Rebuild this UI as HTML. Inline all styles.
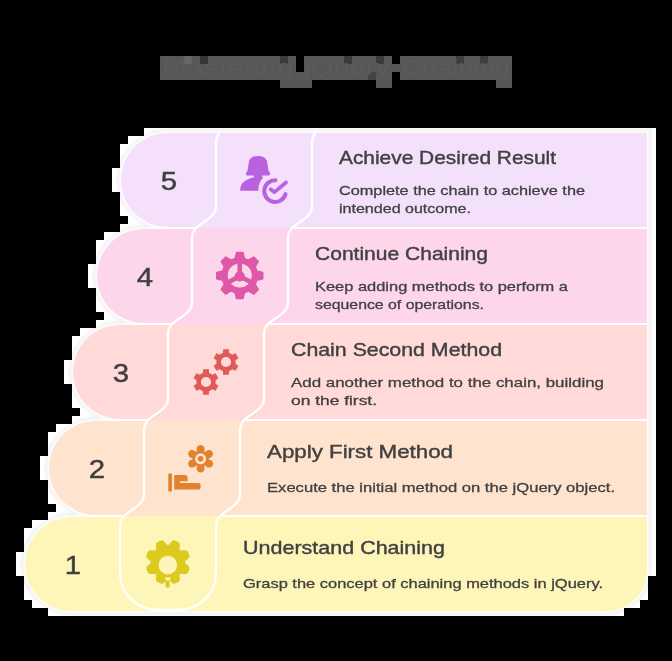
<!DOCTYPE html>
<html><head><meta charset="utf-8"><style>html,body{margin:0;padding:0;background:#000;width:672px;height:661px;overflow:hidden}</style></head>
<body><svg width="672" height="661" viewBox="0 0 672 661" style="display:block;will-change:transform;font-family:'Liberation Sans',sans-serif"><path d="M144,128 L656,128 L656,576 L648,576 L648,600 L640,600 L640,608 L624,608 L624,616 L48,616 L48,608 L32,608 L32,600 L24,600 L24,576 L16,576 L16,552 L24,552 L24,528 L32,528 L32,520 L48,520 L48,512 L56,512 L56,504 L48,504 L48,480 L40,480 L40,456 L48,456 L48,432 L56,432 L56,424 L72,424 L72,416 L80,416 L80,408 L72,408 L72,384 L64,384 L64,360 L72,360 L72,336 L80,336 L80,328 L96,328 L96,320 L104,320 L104,312 L96,312 L96,288 L88,288 L88,264 L96,264 L96,240 L104,240 L104,232 L120,232 L120,224 L128,224 L128,216 L120,216 L120,192 L112,192 L112,168 L120,168 L120,144 L128,144 L128,136 L144,136 L144,128 Z" fill="#FFFFFF"/>
<clipPath id="haloclip"><path d="M144,128 L656,128 L656,576 L648,576 L648,600 L640,600 L640,608 L624,608 L624,616 L48,616 L48,608 L32,608 L32,600 L24,600 L24,576 L16,576 L16,552 L24,552 L24,528 L32,528 L32,520 L48,520 L48,512 L56,512 L56,504 L48,504 L48,480 L40,480 L40,456 L48,456 L48,432 L56,432 L56,424 L72,424 L72,416 L80,416 L80,408 L72,408 L72,384 L64,384 L64,360 L72,360 L72,336 L80,336 L80,328 L96,328 L96,320 L104,320 L104,312 L96,312 L96,288 L88,288 L88,264 L96,264 L96,240 L104,240 L104,232 L120,232 L120,224 L128,224 L128,216 L120,216 L120,192 L112,192 L112,168 L120,168 L120,144 L128,144 L128,136 L144,136 L144,128 Z"/></clipPath>
<filter id="sb" x="-5%" y="-5%" width="110%" height="110%"><feGaussianBlur stdDeviation="0.8"/></filter>
<g clip-path="url(#haloclip)"><g filter="url(#sb)"><path d="M168.0,133 L647,133 L647,227 L168.0,227 A47.0,47.0 0 0 1 168.0,133 Z M144.0,229 L647,229 L647,323 L144.0,323 A47.0,47.0 0 0 1 144.0,229 Z M120.0,325 L647,325 L647,419 L120.0,419 A47.0,47.0 0 0 1 120.0,325 Z M96.0,421 L647,421 L647,515 L96.0,515 A47.0,47.0 0 0 1 96.0,421 Z M72.0,517 L647,517 L647,571 A40,40 0 0 1 607,611 L72.0,611 A47.0,47.0 0 0 1 72.0,517 Z" fill="none" stroke="#EFEFEF" stroke-width="8"/><path d="M168.0,133 L647,133 L647,227 L168.0,227 A47.0,47.0 0 0 1 168.0,133 Z M144.0,229 L647,229 L647,323 L144.0,323 A47.0,47.0 0 0 1 144.0,229 Z M120.0,325 L647,325 L647,419 L120.0,419 A47.0,47.0 0 0 1 120.0,325 Z M96.0,421 L647,421 L647,515 L96.0,515 A47.0,47.0 0 0 1 96.0,421 Z M72.0,517 L647,517 L647,571 A40,40 0 0 1 607,611 L72.0,611 A47.0,47.0 0 0 1 72.0,517 Z" fill="none" stroke="#FFFFFF" stroke-width="3.6"/></g></g>
<rect x="160" y="56" width="136" height="24" fill="#575757"/>
<rect x="296" y="72" width="8" height="8" fill="#575757"/>
<rect x="304" y="56" width="88" height="24" fill="#575757"/>
<rect x="392" y="64" width="8" height="8" fill="#575757"/>
<rect x="400" y="56" width="112" height="24" fill="#575757"/>
<rect x="280" y="80" width="32" height="8" fill="#575757"/>
<rect x="376" y="80" width="16" height="8" fill="#575757"/>
<rect x="496" y="80" width="16" height="8" fill="#575757"/>
<rect x="184" y="56" width="8" height="8" fill="#666666"/>
<rect x="200" y="56" width="8" height="8" fill="#363636"/>
<rect x="280" y="56" width="8" height="8" fill="#3c3c3c"/>
<rect x="344" y="56" width="8" height="8" fill="#3a3a3a"/>
<rect x="376" y="56" width="8" height="8" fill="#3a3a3a"/>
<rect x="368" y="72" width="8" height="8" fill="#444444"/>
<rect x="456" y="56" width="8" height="8" fill="#3e3e3e"/>
<rect x="480" y="56" width="8" height="8" fill="#3e3e3e"/>
<clipPath id="tclip"><rect x="160" y="56" width="136" height="24"/><rect x="296" y="72" width="8" height="8"/><rect x="304" y="56" width="88" height="24"/><rect x="392" y="64" width="8" height="8"/><rect x="400" y="56" width="112" height="24"/><rect x="280" y="80" width="32" height="8"/><rect x="376" y="80" width="16" height="8"/><rect x="496" y="80" width="16" height="8"/></clipPath>
<g clip-path="url(#tclip)" fill="#5b5b5b" font-size="22"><text x="162" y="75" textLength="132" lengthAdjust="spacingAndGlyphs">Mastering</text><text x="304" y="75" textLength="86" lengthAdjust="spacingAndGlyphs">jQuery</text><text x="402" y="75" textLength="108" lengthAdjust="spacingAndGlyphs">Chaining</text></g>
<path d="M168.0,133 L647,133 L647,227 L168.0,227 A47.0,47.0 0 0 1 168.0,133 Z" fill="#F4E0FB"/>
<path d="M144.0,229 L647,229 L647,323 L144.0,323 A47.0,47.0 0 0 1 144.0,229 Z" fill="#FDD6EC"/>
<path d="M120.0,325 L647,325 L647,419 L120.0,419 A47.0,47.0 0 0 1 120.0,325 Z" fill="#FFDAD9"/>
<path d="M96.0,421 L647,421 L647,515 L96.0,515 A47.0,47.0 0 0 1 96.0,421 Z" fill="#FEE3CF"/>
<path d="M72.0,517 L647,517 L647,571 A40,40 0 0 1 607,611 L72.0,611 A47.0,47.0 0 0 1 72.0,517 Z" fill="#FEF6B9"/>
<rect x="196.5" y="227" width="96" height="1" fill="#F4E0FB"/>
<rect x="196.5" y="228" width="96" height="1" fill="#FDD6EC"/>
<rect x="172.5" y="323" width="96" height="1" fill="#FDD6EC"/>
<rect x="172.5" y="324" width="96" height="1" fill="#FFDAD9"/>
<rect x="148.5" y="419" width="96" height="1" fill="#FFDAD9"/>
<rect x="148.5" y="420" width="96" height="1" fill="#FEE3CF"/>
<rect x="124.5" y="515" width="96" height="1" fill="#FEE3CF"/>
<rect x="124.5" y="516" width="96" height="1" fill="#FEF6B9"/>
<clipPath id="sepclip"><rect x="0" y="133" width="672" height="478"/></clipPath>
<g clip-path="url(#sepclip)"><path d="M240,110 C240,126 216,126 216,142 L216,206 C216,222 192,222 192,238 L192,302 C192,318 168,318 168,334 L168,398 C168,414 144,414 144,430 L144,494 C144,510 120,510 120,526 L120,573 A37,37 0 0 0 157,610 L179,610 A37,37 0 0 0 216,573 L216,526" fill="none" stroke="#FFFFFF" stroke-width="2.3"/>
<path d="M336,110 C336,126 312,126 312,142 L312,206 C312,222 288,222 288,238 L288,302 C288,318 264,318 264,334 L264,398 C264,414 240,414 240,430 L240,494 C240,510 216,510 216,526 " fill="none" stroke="#FFFFFF" stroke-width="2.3"/></g>
<text transform="translate(169.0,190.3) scale(1.15,1)" x="0" y="0" font-size="25.5" fill="#3f3f3f" stroke="#3f3f3f" stroke-width="0.45" text-anchor="middle">5</text>
<g transform="translate(0,0.0)"><path d="M258,155.9 C263.5,155.9 267,158.5 267.3,163 L268.4,170 C268.6,171.8 270.2,172.3 270.2,173.8 C270.2,175 269.4,175.5 268.3,175.5 L247.7,175.5 C246.6,175.5 245.8,175 245.8,173.8 C245.8,172.3 247.4,171.8 247.6,170 L248.7,163 C249,158.5 252.5,155.9 258,155.9 Z M253.9,175 L262.2,175 L262.4,178 L253.9,178 Z M254,177.2 L263.4,177.4 A16.4,16.4 0 0 0 258.6,190.8 L240.2,190.8 C240.2,185.5 242,182.5 246.5,180 C249,178.6 251.5,177.8 254,177.2 Z" fill="#B862E0"/><path d="M275.48,180.26 A10.85,10.85 0 1 0 285.53,194.09" fill="none" stroke="#B862E0" stroke-width="4" stroke-linecap="round"/><path d="M270.6,189.2 L274.5,192.2 L286,182.5" fill="none" stroke="#B862E0" stroke-width="3.7" stroke-linecap="round" stroke-linejoin="round"/></g>
<text x="339" y="163.6" font-size="18.5" fill="#414141" stroke="#414141" stroke-width="0.4" textLength="217" lengthAdjust="spacingAndGlyphs">Achieve Desired Result</text>
<text x="339" y="195" font-size="13.5" fill="#414141" stroke="#414141" stroke-width="0.3" textLength="246" lengthAdjust="spacingAndGlyphs">Complete the chain to achieve the</text>
<text x="339" y="212.5" font-size="13.5" fill="#414141" stroke="#414141" stroke-width="0.3" textLength="132" lengthAdjust="spacingAndGlyphs">intended outcome.</text>
<text transform="translate(145.0,286.3) scale(1.15,1)" x="0" y="0" font-size="25.5" fill="#3f3f3f" stroke="#3f3f3f" stroke-width="0.45" text-anchor="middle">4</text>
<g transform="translate(0,0.0)"><path d="M235.01,258.65 L236.56,252.62 L242.94,252.62 L244.49,258.65 L245.50,258.97 L246.49,259.34 L247.45,259.77 L248.38,260.26 L253.74,257.10 L258.25,261.61 L255.09,266.97 L255.58,267.90 L256.01,268.86 L256.38,269.85 L256.70,270.86 L262.73,272.41 L262.73,278.79 L256.70,280.34 L256.38,281.35 L256.01,282.34 L255.58,283.30 L255.09,284.23 L258.25,289.59 L253.74,294.10 L248.38,290.94 L247.45,291.43 L246.49,291.86 L245.50,292.23 L244.49,292.55 L242.94,298.58 L236.56,298.58 L235.01,292.55 L234.00,292.23 L233.01,291.86 L232.05,291.43 L231.12,290.94 L225.76,294.10 L221.25,289.59 L224.41,284.23 L223.92,283.30 L223.49,282.34 L223.12,281.35 L222.80,280.34 L216.77,278.79 L216.77,272.41 L222.80,270.86 L223.12,269.85 L223.49,268.86 L223.92,267.90 L224.41,266.97 L221.25,261.61 L225.76,257.10 L231.12,260.26 L232.05,259.77 L233.01,259.34 L234.00,258.97 Z" fill="#DF58A8" stroke="#DF58A8" stroke-width="1.5" stroke-linejoin="round"/><circle cx="239.75" cy="275.6" r="12" fill="#FDD6EC"/><line x1="239.75" y1="276.40000000000003" x2="239.75" y2="262.60" stroke="#DF58A8" stroke-width="4.6"/><line x1="239.75" y1="276.40000000000003" x2="251.01" y2="282.10" stroke="#DF58A8" stroke-width="4.6"/><line x1="239.75" y1="276.40000000000003" x2="228.49" y2="282.10" stroke="#DF58A8" stroke-width="4.6"/><circle cx="239.75" cy="276.40000000000003" r="5.2" fill="#DF58A8"/></g>
<text x="315" y="259.6" font-size="18.5" fill="#414141" stroke="#414141" stroke-width="0.4" textLength="173" lengthAdjust="spacingAndGlyphs">Continue Chaining</text>
<text x="315" y="291" font-size="13.5" fill="#414141" stroke="#414141" stroke-width="0.3" textLength="253" lengthAdjust="spacingAndGlyphs">Keep adding methods to perform a</text>
<text x="315" y="308.5" font-size="13.5" fill="#414141" stroke="#414141" stroke-width="0.3" textLength="169" lengthAdjust="spacingAndGlyphs">sequence of operations.</text>
<text transform="translate(121.0,382.3) scale(1.15,1)" x="0" y="0" font-size="25.5" fill="#3f3f3f" stroke="#3f3f3f" stroke-width="0.45" text-anchor="middle">3</text>
<g transform="translate(0,0.0)"><path d="M222.86,352.93 L223.12,349.32 L228.88,349.32 L229.14,352.93 L229.99,353.27 L230.80,353.69 L231.57,354.18 L232.29,354.74 L235.54,353.17 L238.42,358.15 L235.43,360.18 L235.56,361.09 L235.60,362.00 L235.56,362.91 L235.43,363.82 L238.42,365.85 L235.54,370.83 L232.29,369.26 L231.57,369.82 L230.80,370.31 L229.99,370.73 L229.14,371.07 L228.88,374.68 L223.12,374.68 L222.86,371.07 L222.01,370.73 L221.20,370.31 L220.43,369.82 L219.71,369.26 L216.46,370.83 L213.58,365.85 L216.57,363.82 L216.44,362.91 L216.40,362.00 L216.44,361.09 L216.57,360.18 L213.58,358.15 L216.46,353.17 L219.71,354.74 L220.43,354.18 L221.20,353.69 L222.01,353.27 Z M220.90,362.00 A5.1,5.1 0 1 0 231.10,362.00 A5.1,5.1 0 1 0 220.90,362.00 Z" fill="#E05A58" fill-rule="evenodd"/><path d="M202.86,372.93 L203.12,369.32 L208.88,369.32 L209.14,372.93 L209.99,373.27 L210.80,373.69 L211.57,374.18 L212.29,374.74 L215.54,373.17 L218.42,378.15 L215.43,380.18 L215.56,381.09 L215.60,382.00 L215.56,382.91 L215.43,383.82 L218.42,385.85 L215.54,390.83 L212.29,389.26 L211.57,389.82 L210.80,390.31 L209.99,390.73 L209.14,391.07 L208.88,394.68 L203.12,394.68 L202.86,391.07 L202.01,390.73 L201.20,390.31 L200.43,389.82 L199.71,389.26 L196.46,390.83 L193.58,385.85 L196.57,383.82 L196.44,382.91 L196.40,382.00 L196.44,381.09 L196.57,380.18 L193.58,378.15 L196.46,373.17 L199.71,374.74 L200.43,374.18 L201.20,373.69 L202.01,373.27 Z M200.90,382.00 A5.1,5.1 0 1 0 211.10,382.00 A5.1,5.1 0 1 0 200.90,382.00 Z" fill="#E05A58" fill-rule="evenodd"/></g>
<text x="291" y="355.6" font-size="18.5" fill="#414141" stroke="#414141" stroke-width="0.4" textLength="211" lengthAdjust="spacingAndGlyphs">Chain Second Method</text>
<text x="291" y="387" font-size="13.5" fill="#414141" stroke="#414141" stroke-width="0.3" textLength="313" lengthAdjust="spacingAndGlyphs">Add another method to the chain, building</text>
<text x="291" y="404.5" font-size="13.5" fill="#414141" stroke="#414141" stroke-width="0.3" textLength="86" lengthAdjust="spacingAndGlyphs">on the first.</text>
<text transform="translate(97.0,478.3) scale(1.15,1)" x="0" y="0" font-size="25.5" fill="#3f3f3f" stroke="#3f3f3f" stroke-width="0.45" text-anchor="middle">2</text>
<g transform="translate(0,0.0)"><circle cx="200.6" cy="458.8" r="8.2" fill="#E0822F"/><ellipse cx="200.60" cy="449.40" rx="4.4" ry="4.0" transform="rotate(-90 200.60 449.40)" fill="#E0822F"/><ellipse cx="208.74" cy="454.10" rx="4.4" ry="4.0" transform="rotate(-30 208.74 454.10)" fill="#E0822F"/><ellipse cx="208.74" cy="463.50" rx="4.4" ry="4.0" transform="rotate(30 208.74 463.50)" fill="#E0822F"/><ellipse cx="200.60" cy="468.20" rx="4.4" ry="4.0" transform="rotate(90 200.60 468.20)" fill="#E0822F"/><ellipse cx="192.46" cy="463.50" rx="4.4" ry="4.0" transform="rotate(150 192.46 463.50)" fill="#E0822F"/><ellipse cx="192.46" cy="454.10" rx="4.4" ry="4.0" transform="rotate(210 192.46 454.10)" fill="#E0822F"/><circle cx="200.6" cy="458.8" r="5.5" fill="#FEE3CF"/><circle cx="200.6" cy="458.8" r="2.8" fill="#E0822F"/><rect x="168.3" y="473.5" width="3.6" height="18.1" rx="0.5" fill="#E0822F"/><path d="M174.2,475 L185,475 Q187.6,475 187.6,477.6 L187.6,481.2 L180.1,481.2 L180.1,482.9 L198.4,482.9 Q200.6,482.9 200.6,485.1 L200.6,487.4 Q200.6,489.6 198.4,489.6 L174.2,489.6 Z" fill="#E0822F"/></g>
<text x="267" y="458" font-size="18.5" fill="#414141" stroke="#414141" stroke-width="0.4" textLength="186" lengthAdjust="spacingAndGlyphs">Apply First Method</text>
<text x="267" y="491.8" font-size="13.5" fill="#414141" stroke="#414141" stroke-width="0.3" textLength="348" lengthAdjust="spacingAndGlyphs">Execute the initial method on the jQuery object.</text>
<text transform="translate(73.0,574.3) scale(1.15,1)" x="0" y="0" font-size="25.5" fill="#3f3f3f" stroke="#3f3f3f" stroke-width="0.45" text-anchor="middle">1</text>
<g transform="translate(0,0.0)"><mask id="bm"><rect x="120" y="517" width="96" height="96" fill="#fff"/><circle cx="167.8" cy="565" r="9.25" fill="#000"/></mask><path d="M182.40,563.83 L186.99,568.06 L185.61,571.38 L179.37,571.13 L178.82,571.79 L178.22,572.42 L177.59,573.02 L176.93,573.57 L177.18,579.81 L173.86,581.19 L169.63,576.60 L168.77,576.67 L167.90,576.70 L167.03,576.67 L166.17,576.60 L161.94,581.19 L158.62,579.81 L158.87,573.57 L158.21,573.02 L157.58,572.42 L156.98,571.79 L156.43,571.13 L150.19,571.38 L148.81,568.06 L153.40,563.83 L153.33,562.97 L153.30,562.10 L153.33,561.23 L153.40,560.37 L148.81,556.14 L150.19,552.82 L156.43,553.07 L156.98,552.41 L157.58,551.78 L158.21,551.18 L158.87,550.63 L158.62,544.39 L161.94,543.01 L166.17,547.60 L167.03,547.53 L167.90,547.50 L168.77,547.53 L169.63,547.60 L173.86,543.01 L177.18,544.39 L176.93,550.63 L177.59,551.18 L178.22,551.78 L178.82,552.41 L179.37,553.07 L185.61,552.82 L186.99,556.14 L182.40,560.37 L182.47,561.23 L182.50,562.10 L182.47,562.97 Z" fill="#DCCB1E" stroke="#DCCB1E" stroke-width="5.2" stroke-linejoin="round" mask="url(#bm)"/><rect x="165.6" y="578" width="4" height="9.6" rx="1.2" fill="#DCCB1E"/><path d="M165.0,577.6 L170.8,577.6 L169.8,580.6 L166.0,580.6 Z" fill="#FEF6B9"/></g>
<text x="243" y="554" font-size="18.5" fill="#414141" stroke="#414141" stroke-width="0.4" textLength="202" lengthAdjust="spacingAndGlyphs">Understand Chaining</text>
<text x="243" y="587.8" font-size="13.5" fill="#414141" stroke="#414141" stroke-width="0.3" textLength="360" lengthAdjust="spacingAndGlyphs">Grasp the concept of chaining methods in jQuery.</text></svg></body></html>
